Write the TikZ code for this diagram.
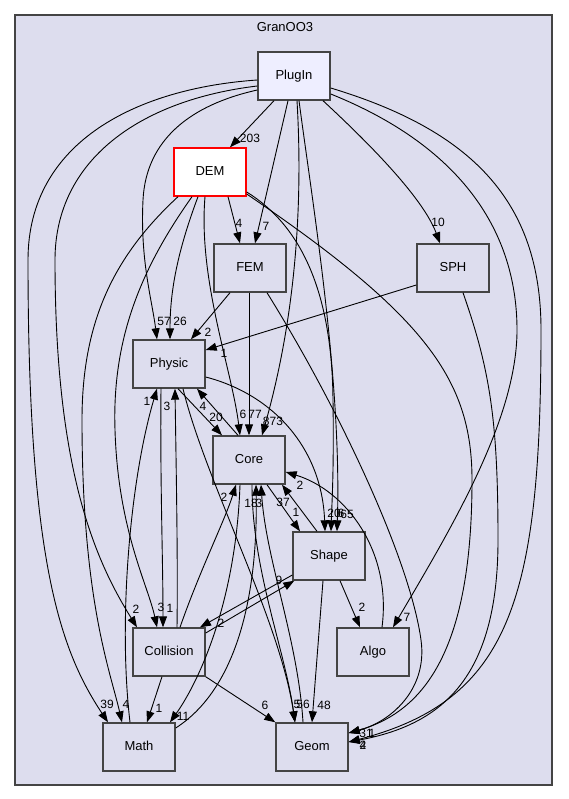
\documentclass[tikz,border=0pt]{standalone}
\usepackage{fontspec}
\setmainfont{Liberation Sans}
\usepackage{xcolor}
\usetikzlibrary{arrows.meta}

\definecolor{clusterbg}{HTML}{DDDDEE}
\definecolor{plugbg}{HTML}{EEEEFF}
\definecolor{framegray}{HTML}{444444}

\begin{document}
\begin{tikzpicture}[x=1pt, y=-1pt]
\tikzstyle{cluster} = [rectangle, draw=framegray, line width=1.4pt, fill=clusterbg, minimum width=537pt, minimum height=770pt, inner sep=0pt]
\tikzstyle{folder} = [rectangle, minimum width=72pt, minimum height=48pt, inner sep=0pt, text height=9.4pt, text depth=2.7pt, draw=framegray, line width=1.4pt, fill=clusterbg, font=\fontsize{13}{15}\selectfont]
\tikzstyle{dep} = [line width=0.9pt, -{Triangle[length=11pt, width=8pt]}]
\tikzstyle{num} = [inner sep=0pt, font=\fontsize{12}{14}\selectfont]

\useasboundingbox (0,0) rectangle (568,799);

\node (GranOO3) [cluster] at (283.5,400) {};
\node (title) [font=\fontsize{13}{15}\selectfont, inner sep=0pt] at (285,27) {GranOO3};

\node (PlugIn) [folder, fill=plugbg] at (294,76) {PlugIn};
\node (DEM) [folder, fill=white, draw=red] at (210,172) {DEM};
\node (FEM) [folder] at (250,268) {FEM};
\node (SPH) [folder] at (453,268) {SPH};
\node (Physic) [folder] at (169,364) {Physic};
\node (Core) [folder] at (249,460) {Core};
\node (Shape) [folder] at (329,556) {Shape};
\node (Collision) [folder] at (169,652) {Collision};
\node (Algo) [folder] at (373,652) {Algo};
\node (Math) [folder] at (139,747) {Math};
\node (Geom) [folder] at (312,747) {Geom};

\draw [dep] ([xshift=-20pt]PlugIn.south) -- ([xshift=20pt]DEM.north) node (lPlugInDEM) [num] at (250,138) {203};
\draw [dep] ([xshift=-6pt]PlugIn.south) -- ([xshift=5pt]FEM.north) node (lPlugInFEM) [num] at (266,226) {7};
\draw [dep] ([xshift=29pt]PlugIn.south) .. controls (360,135) and (422,195) .. ([xshift=-13pt]SPH.north) node (lPlugInSPH) [num] at (438,222) {10};
\draw [dep] ([yshift=-14pt]PlugIn.west) .. controls (190,105) and (146,140) .. (143,200) .. controls (140,260) and (152,300) .. ([xshift=-12pt]Physic.north) node (lPlugInPhysic) [num] at (164,321) {57};
\draw [dep] ([yshift=-10pt]PlugIn.west) .. controls (140,100) and (55,160) .. (55,260) .. controls (55,470) and (95,560) .. ([xshift=-32pt]Collision.north) node (lPlugInCollision) [num] at (136,609) {2};
\draw [dep] ([yshift=-4pt]PlugIn.west) .. controls (140,88) and (28,140) .. (28,260) .. controls (28,560) and (60,650) .. ([xshift=-31pt]Math.north) node (lPlugInMath) [num] at (107,704) {39};
\draw [dep] ([xshift=3pt]PlugIn.south) .. controls (304,220) and (292,330) .. ([xshift=13pt]Core.north) node (lPlugInCore) [num] at (273,421) {873};
\draw [dep] ([xshift=5pt]PlugIn.south) .. controls (312,200) and (342,380) .. ([xshift=8pt]Shape.north) node (lPlugInShape) [num] at (347,514) {65};
\draw [dep] ([yshift=-18pt]PlugIn.east) .. controls (470,150) and (517,240) .. (517,330) .. controls (517,420) and (450,530) .. ([xshift=20pt]Algo.north) node (lPlugInAlgo) [num] at (407,617) {7};
\draw [dep] ([yshift=-12pt]PlugIn.east) .. controls (470,130) and (541,200) .. (541,330) .. controls (541,600) and (510,700) .. ([yshift=5pt]Geom.east) node (lPlugInGeom) [num] at (363,745) {4};

\draw [dep] ([xshift=18pt]DEM.south) -- ([xshift=-10pt]FEM.north) node (lDEMFEM) [num] at (239,223) {4};
\draw [dep] ([xshift=-12pt]DEM.south) .. controls (178,250) and (170,290) .. ([xshift=1pt]Physic.north) node (lDEMPhysic) [num] at (180,321) {26};
\draw [dep] ([xshift=-5pt]DEM.south) .. controls (198,280) and (232,370) .. ([xshift=-9pt]Core.north) node (lDEMCore) [num] at (243,414) {6};
\draw [dep] ([xshift=-18pt]DEM.south) .. controls (140,270) and (112,340) .. (115,430) .. controls (118,530) and (148,585) .. ([xshift=-12pt]Collision.north) node (lDEMCollision) [num] at (161,607) {3};
\draw [dep] ([xshift=-32pt]DEM.south) .. controls (115,255) and (82,320) .. (82,420) .. controls (82,600) and (110,670) .. ([xshift=-17pt]Math.north) node (lDEMMath) [num] at (126,704) {4};
\draw [dep] ([yshift=-20pt]DEM.east) .. controls (300,225) and (332,290) .. (333,400) .. controls (334,470) and (332,500) .. ([xshift=2pt]Shape.north) node (lDEMShape) [num] at (341,513) {6};
\draw [dep] ([yshift=-22pt]DEM.east) .. controls (426,316) and (472,380) .. (472,480) .. controls (472,640) and (430,710) .. ([yshift=14pt]Geom.east) node (lDEMGeom) [num] at (366,733) {31};

\draw [dep] ([xshift=-20pt]FEM.south) -- ([xshift=22pt]Physic.north) node (lFEMPhysic) [num] at (208,332) {2};
\draw [dep] ([xshift=-1pt]FEM.south) -- (Core.north) node (lFEMCore) [num] at (255,414) {77};
\draw [dep] ([xshift=17pt]FEM.south) .. controls (340,410) and (410,560) .. (421,640) .. controls (428,690) and (390,722) .. ([yshift=14pt]Geom.east) node (lFEMGeom) [num] at (372,733) {1};

\draw [dep] ([yshift=-17pt]SPH.west) -- ([yshift=14pt]Physic.east) node (lSPHPhysic) [num] at (224,353) {1};
\draw [dep] ([xshift=10pt]SPH.south) .. controls (490,370) and (498,420) .. (498,540) .. controls (498,680) and (440,725) .. ([yshift=5pt]Geom.east) node (lSPHGeom) [num] at (363,745) {2};

\draw [dep] ([xshift=9pt]Physic.south) -- ([xshift=-27pt]Core.north) node (lPhysicCore) [num] at (216,417) {20};
\draw [dep] ([yshift=-13pt]Physic.east) .. controls (275,395) and (322,450) .. ([xshift=-4pt]Shape.north) node (lPhysicShape) [num] at (334,513) {20};
\draw [dep] ([xshift=-8pt]Physic.south) .. controls (160,480) and (163,560) .. ([xshift=-6pt]Collision.north) node (lPhysicCollision) [num] at (170,608) {1};
\draw [dep] ([xshift=14pt]Physic.south) .. controls (205,480) and (280,620) .. ([xshift=-17pt]Geom.north) node (lPhysicGeom) [num] at (297,704) {5};

\draw [dep] ([xshift=-11pt]Core.north) -- ([xshift=28pt]Physic.south) node (lCorePhysic) [num] at (203,406) {4};
\draw [dep] ([xshift=18pt]Core.south) -- ([xshift=-29pt]Shape.north) node (lCoreShape) [num] at (296,512) {1};
\draw [dep] ([xshift=-9pt]Core.south) .. controls (236,600) and (200,680) .. ([xshift=31pt]Math.north) node (lCoreMath) [num] at (183,716) {11};
\draw [dep] ([xshift=3pt]Core.south) .. controls (252,570) and (285,650) .. ([xshift=-17pt]Geom.north) node (lCoreGeom) [num] at (303,704) {56};

\draw [dep] ([xshift=-12pt]Shape.north) -- ([xshift=33pt]Core.south) node (lShapeCore) [num] at (283,502) {37};
\draw [dep] ([yshift=-19pt]Shape.west) -- ([xshift=31pt]Collision.north) node (lShapeCollision) [num] at (221,623) {2};
\draw [dep] ([xshift=11pt]Shape.south) -- ([xshift=-13pt]Algo.north) node (lShapeAlgo) [num] at (362,607) {2};
\draw [dep] ([xshift=-6pt]Shape.south) -- (Geom.north) node (lShapeGeom) [num] at (324,705) {48};

\draw [dep] ([xshift=8pt]Collision.north) .. controls (178,560) and (176,460) .. ([xshift=6pt]Physic.south) node (lCollisionPhysic) [num] at (167,406) {3};
\draw [dep] ([xshift=11pt]Collision.north) .. controls (200,570) and (225,520) .. ([xshift=-13pt]Core.south) node (lCollisionCore) [num] at (224,497) {2};
\draw [dep] ([yshift=19pt]Collision.east) -- ([xshift=2pt]Shape.south west) node (lCollisionShape) [num] at (279,580) {9};
\draw [dep] ([xshift=-7pt]Collision.south) -- ([xshift=8pt]Math.north) node (lCollisionMath) [num] at (159,708) {1};
\draw [dep] (Collision.south east) -- (Geom.north west) node (lCollisionGeom) [num] at (265,705) {6};

\draw [dep] ([xshift=9pt]Algo.north) .. controls (392,550) and (345,490) .. ([yshift=-12pt]Core.east) node (lAlgoCore) [num] at (300,485) {2};

\draw [dep] ([xshift=-9pt]Math.north) .. controls (118,620) and (130,480) .. ([xshift=-12pt]Physic.south) node (lMathPhysic) [num] at (147,401) {1};
\draw [dep] ([yshift=19pt]Math.east) .. controls (235,690) and (258,600) .. ([xshift=7pt]Core.south) node (lMathCore) [num] at (251,503) {18};

\draw [dep] ([xshift=-9pt]Geom.north) .. controls (298,640) and (266,560) .. ([xshift=12pt]Core.south) node (lGeomCore) [num] at (259,503) {3};
\end{tikzpicture}
\end{document}
